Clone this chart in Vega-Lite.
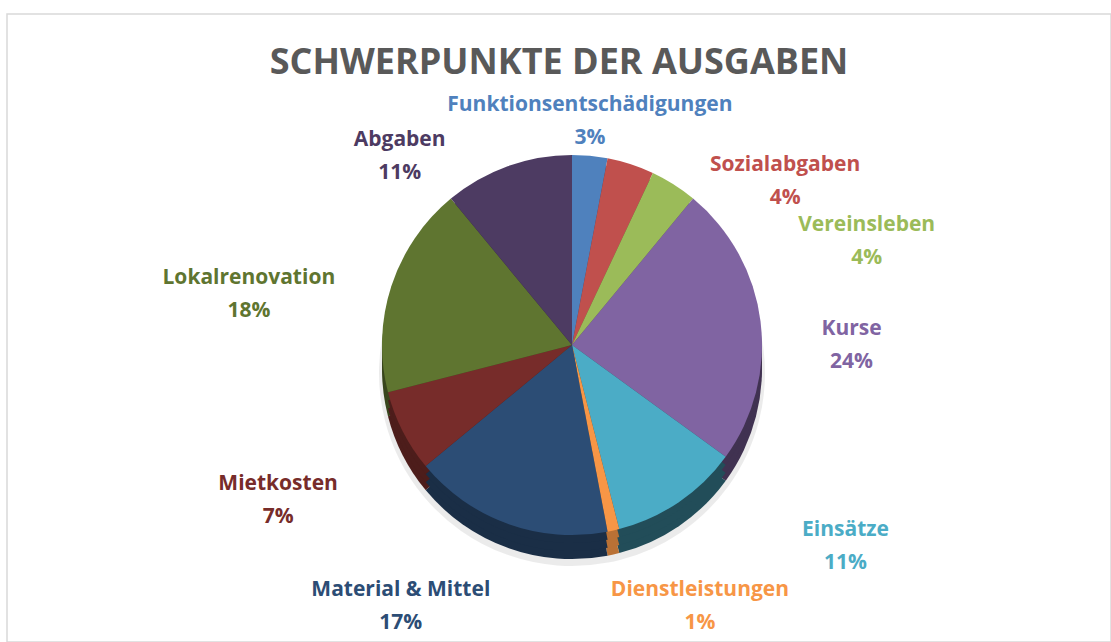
{
  "$schema": "https://vega.github.io/schema/vega-lite/v6.json",
  "width": 1104,
  "height": 628,
  "autosize": "none",
  "padding": {"left": 7, "top": 14, "right": 0, "bottom": 0},
  "background": "white",
  "view": {"stroke": "#d9d9d9", "strokeWidth": 1.5},
  "config": {"view": {"stroke": "#d9d9d9", "strokeWidth": 1.5}, "font": "Open Sans"},
  "title": {"text": "SCHWERPUNKTE DER AUSGABEN", "font": "Open Sans", "fontSize": 36, "fontWeight": "bold", "color": "#595959", "anchor": "middle", "offset": -68},
  "data": {"values": [
    {"name": "Funktionsentschädigungen", "pct": 3},
    {"name": "Sozialabgaben", "pct": 4},
    {"name": "Vereinsleben", "pct": 4},
    {"name": "Kurse", "pct": 24},
    {"name": "Einsätze", "pct": 11},
    {"name": "Dienstleistungen", "pct": 1},
    {"name": "Material & Mittel", "pct": 17},
    {"name": "Mietkosten", "pct": 7},
    {"name": "Lokalrenovation", "pct": 18},
    {"name": "Abgaben", "pct": 11}
  ]},
  "transform": [
    {"window": [{"op": "row_number", "as": "ord"}]},
    {"calculate": "datum.name + '\\n' + datum.pct + '%'", "as": "label"}
  ],
  "layer": [
    {
      "mark": {"type": "arc", "outerRadius": 193, "xOffset": 13, "yOffset": 45, "color": "#000000", "opacity": 0.08},
      "encoding": {"theta": {"field": "pct", "type": "quantitative", "stack": true}, "order": {"field": "ord"}}
    },
    {
      "mark": {"type": "arc", "outerRadius": 190, "xOffset": 13, "yOffset": 41},
      "encoding": {
        "theta": {"field": "pct", "type": "quantitative", "stack": true},
        "order": {"field": "ord"},
        "fill": {"field": "name", "type": "nominal", "legend": null, "scale": {"domain": ["Funktionsentschädigungen", "Sozialabgaben", "Vereinsleben", "Kurse", "Einsätze", "Dienstleistungen", "Material & Mittel", "Mietkosten", "Lokalrenovation", "Abgaben"], "range": ["#2f4d71", "#73302e", "#5d7035", "#403251", "#224d59", "#b97135", "#1a2e46", "#4d1d1b", "#39461d", "#2e233b"]}}
      }
    },
    {
      "mark": {"type": "arc", "outerRadius": 190, "xOffset": 13, "yOffset": 33},
      "encoding": {
        "theta": {"field": "pct", "type": "quantitative", "stack": true},
        "order": {"field": "ord"},
        "fill": {"field": "name", "type": "nominal", "legend": null}
      }
    },
    {
      "mark": {"type": "arc", "outerRadius": 190, "xOffset": 13, "yOffset": 25},
      "encoding": {
        "theta": {"field": "pct", "type": "quantitative", "stack": true},
        "order": {"field": "ord"},
        "fill": {"field": "name", "type": "nominal", "legend": null}
      }
    },
    {
      "mark": {"type": "arc", "outerRadius": 190, "xOffset": 13, "yOffset": 17},
      "encoding": {
        "theta": {"field": "pct", "type": "quantitative", "stack": true},
        "order": {"field": "ord"},
        "color": {"field": "name", "type": "nominal", "legend": null, "scale": {"domain": ["Funktionsentschädigungen", "Sozialabgaben", "Vereinsleben", "Kurse", "Einsätze", "Dienstleistungen", "Material & Mittel", "Mietkosten", "Lokalrenovation", "Abgaben"], "range": ["#4f81bd", "#c0504d", "#9bbb59", "#8064a2", "#4bacc6", "#f79646", "#2c4d75", "#772c2a", "#5f7530", "#4d3b62"]}}
      }
    },
    {
      "mark": {
        "type": "text", "font": "Open Sans", "fontSize": 21, "fontWeight": "bold", "lineBreak": "\n", "lineHeight": 33,
        "align": "center", "baseline": "middle", "xOffset": 13, "yOffset": 17,
        "radius": {"expr": "[241, 279, 318, 280, 330, 276, 299, 325, 330, 268][datum.ord - 1]"},
        "thetaOffset": {"expr": "[-0.02, 0.555, 0.62, 0.07, -0.38, -0.262, 0.264, 0.03, -0.11, -0.353][datum.ord - 1]"}
      },
      "encoding": {
        "theta": {"field": "pct", "type": "quantitative", "stack": true},
        "order": {"field": "ord"},
        "color": {"field": "name", "type": "nominal", "legend": null},
        "text": {"field": "label"}
      }
    }
  ]
}
